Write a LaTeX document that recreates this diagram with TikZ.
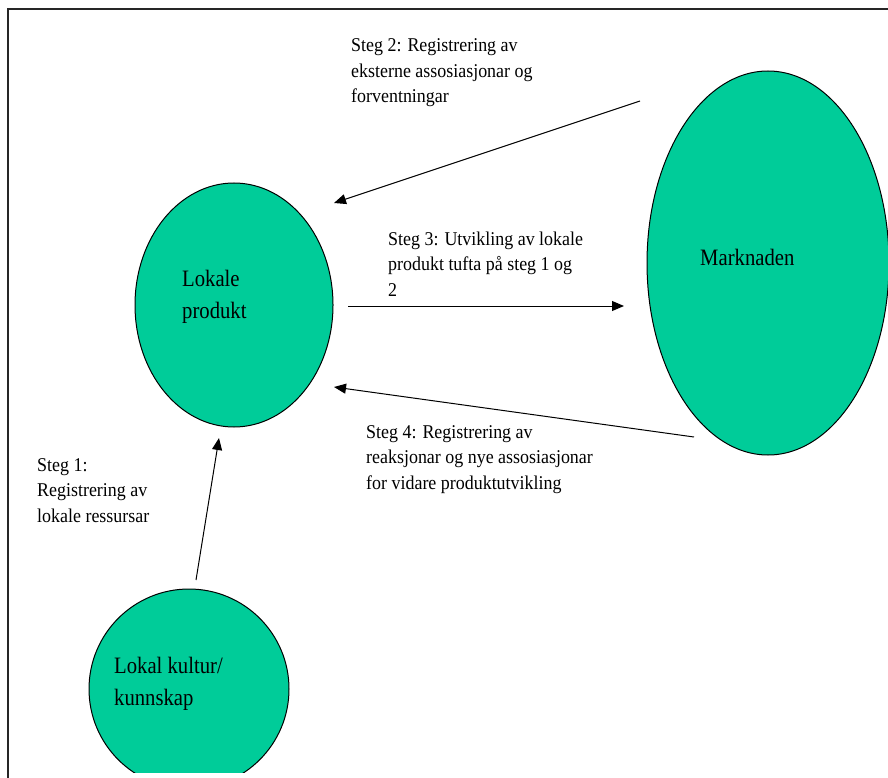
\documentclass[tikz,border=0pt]{standalone}
\usepackage{fontspec}
\setmainfont{Liberation Serif}
\newfontfamily\bignarrow[FakeStretch=0.88]{Liberation Serif}
\newfontfamily\stepnarrow[FakeStretch=0.92]{Liberation Serif}
\usetikzlibrary{arrows.meta,shapes.geometric}
\definecolor{blobfill}{RGB}{0,204,153}
\tikzset{
  blob/.style={draw=black,line width=1pt,fill=blobfill,ellipse,inner sep=0pt},
  bigtext/.style={anchor=base west,inner sep=0pt,align=left,font=\bignarrow\fontsize{23.5}{32}\selectfont},
  steptext/.style={anchor=base west,inner sep=0pt,align=left,font=\stepnarrow\fontsize{19.5}{25.5}\selectfont},
  flow/.style={line width=1pt,-{Triangle[length=12pt,width=10pt]}}
}
\begin{document}
\begin{tikzpicture}[x=1pt,y=-1pt]
\useasboundingbox (0,0) rectangle (888,778);
\clip (0,0) rectangle (888,778);
\fill[white] (0,0) rectangle (888,778);
% frame
\draw[line width=2.2pt,black!85] (8,800) -- (8,9) -- (900,9);
% ellipses
\node[blob,minimum width=198pt,minimum height=244pt] (lp) at (234,305) {};
\node[blob,minimum width=242pt,minimum height=384pt] (mk) at (768,263) {};
\begin{scope}
\clip (0,0) rectangle (888,772);
\node[blob,minimum width=200pt,minimum height=200pt] (lk) at (189,689) {};
\end{scope}
% ellipse texts (anchored at the baseline of the last line)
\node[bigtext] (lpt) at (182,318) {Lokale\\produkt};
\node[bigtext] (mkt) at (700,265) {Marknaden};
\node[bigtext] (lkt) at (114,705) {Lokal kultur/\\kunnskap};
% step labels (anchored at the baseline of the last line)
\node[steptext] (s1) at (37,522) {Steg 1:\\Registrering av\\lokale ressursar};
\node[steptext] (s2) at (351,103) {Steg 2: Registrering av\\eksterne assosiasjonar og\\forventningar};
\node[steptext] (s3) at (388,296) {Steg 3: Utvikling av lokale\\produkt tufta på steg 1 og\\2};
\node[steptext] (s4) at (366,489) {Steg 4: Registrering av\\reaksjonar og nye assosiasjonar\\for vidare produktutvikling};
% arrow end points
\coordinate (a1s) at (196,580);
\coordinate (a1e) at (219,438);
\coordinate (a2s) at (640,101);
\coordinate (a2e) at (334,203);
\coordinate (a3s) at (348,306);
\coordinate (a3e) at (624,306);
\coordinate (a4s) at (694,437);
\coordinate (a4e) at (334,387);
\draw[flow] (a1s) -- (a1e);
\draw[flow] (a2s) -- (a2e);
\draw[flow] (a3s) -- (a3e);
\draw[flow] (a4s) -- (a4e);
\end{tikzpicture}
\end{document}
